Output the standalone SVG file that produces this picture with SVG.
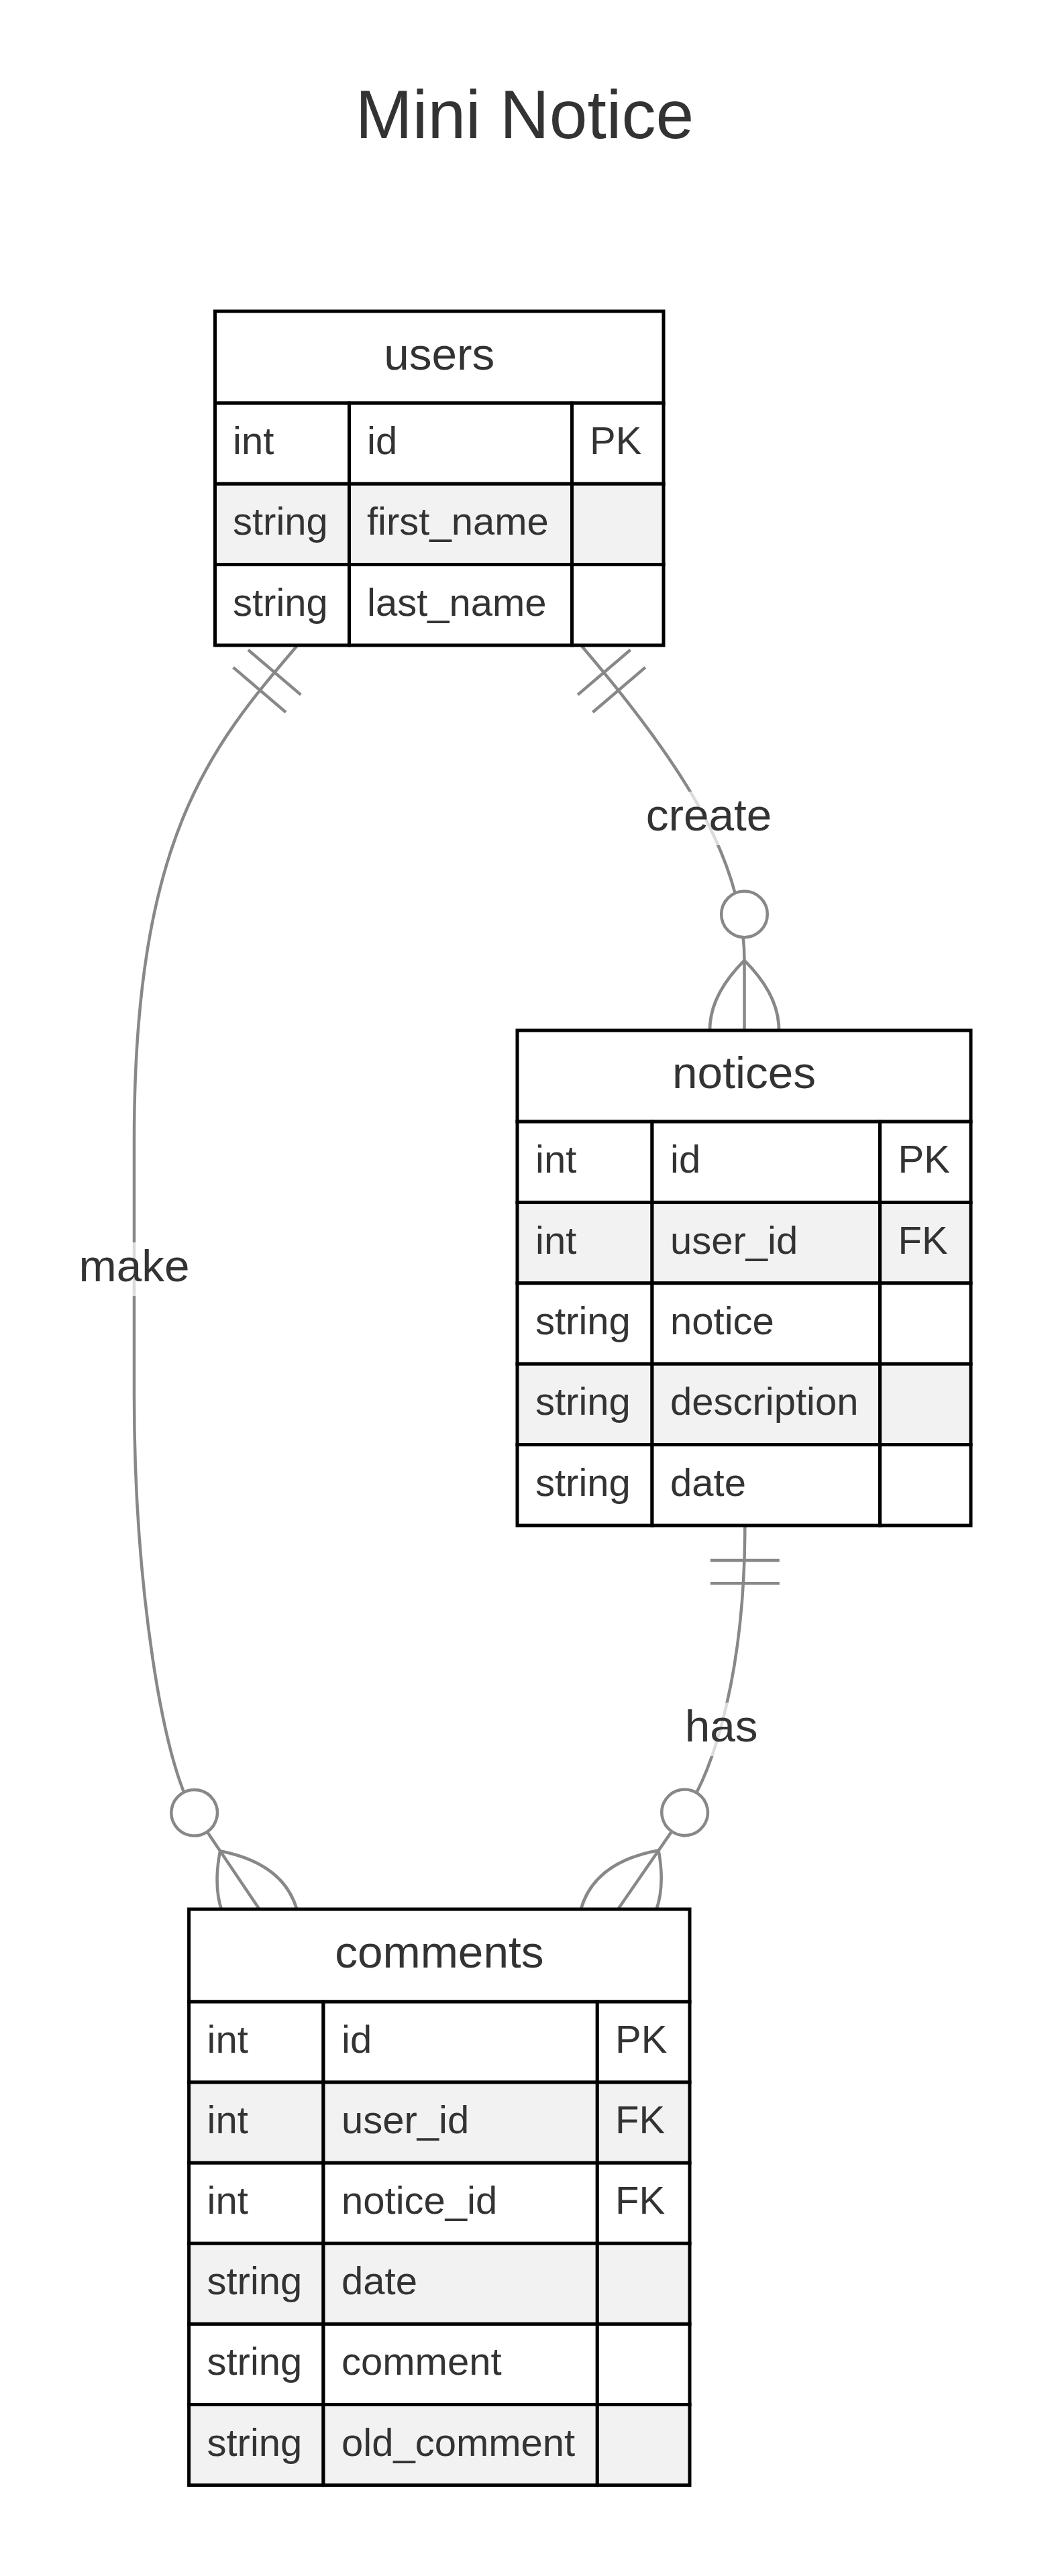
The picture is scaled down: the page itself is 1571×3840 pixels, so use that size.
<svg xmlns="http://www.w3.org/2000/svg" width="1571" height="3840" viewBox="0 0 1571 3840">
<style>
.bg{fill:#ffffff}
.edge{fill:none;stroke:#888888;stroke-width:4.5}
.mk{fill:none;stroke:#888888;stroke-width:4.5}
.cell{fill:#ffffff;stroke:#000000;stroke-width:5}
.alt{fill:#f2f2f2;stroke:#000000;stroke-width:5}
.hd{font-family:"Liberation Sans",Arial,sans-serif;font-size:67.5px;fill:#333333;text-anchor:middle}
.at{font-family:"Liberation Sans",Arial,sans-serif;font-size:58px;fill:#333333}
.lbl{font-family:"Liberation Sans",Arial,sans-serif;font-size:67.5px;fill:#333333;text-anchor:middle}
.lbox{fill:#ffffff;opacity:0.7}
.title{font-family:"Liberation Sans",Arial,sans-serif;font-size:102px;fill:#333333;text-anchor:middle}
</style>
<defs>
<g id="oneStart"><path d="M51.5,-51.5 L51.5,51.5 M85.8,-51.5 L85.8,51.5"/></g>
<g id="zeroManyEnd"><circle cx="-274.6" cy="0" r="34.3" fill="#ffffff"/><path d="M-205.9,0 Q-102.9,-102.9 0,0 Q-102.9,102.9 -205.9,0"/></g>
</defs>
<rect class="bg" x="0" y="0" width="1571" height="3840"/>
<text class="title" x="782" y="206">Mini Notice</text>

<g id="connectors">
<path class="edge" d="M442.5,963 C312.6,1115.2 200,1250 200,1700 L200,2080 C200,2360 242.7,2632.7 289.7,2702.3 L443.2,2929.9"/>
<path class="edge" d="M867,963 C1016.3,1138 1109.5,1282 1109.5,1432 L1109.5,1637.5"/>
<path class="edge" d="M1110.3,2274.5 C1110.3,2494.5 1063.3,2640.1 1020.7,2701.8 L864.7,2927.8"/>
<use href="#oneStart" class="mk" transform="translate(442.5,963) rotate(130.45)"/>
<use href="#oneStart" class="mk" transform="translate(867,963) rotate(49.55)"/>
<use href="#oneStart" class="mk" transform="translate(1110.3,2274.5) rotate(90)"/>
<use href="#zeroManyEnd" class="mk" transform="translate(443.2,2929.9) rotate(56)"/>
<use href="#zeroManyEnd" class="mk" transform="translate(1109.5,1637.5) rotate(90)"/>
<use href="#zeroManyEnd" class="mk" transform="translate(864.7,2927.8) rotate(124.6)"/>
<g id="label-make"><rect class="lbox" x="117.5" y="1852" width="165" height="80"/><text class="lbl" x="200" y="1910">make</text></g>
<g id="label-create"><rect class="lbox" x="962.8" y="1180" width="187.6" height="80"/><text class="lbl" x="1056.6" y="1238">create</text></g>
<g id="label-has"><rect class="lbox" x="1020.8" y="2538" width="108.8" height="80"/><text class="lbl" x="1075.2" y="2596">has</text></g>
</g>

<g id="users">
<rect class="cell" x="320.5" y="464" width="668.5" height="137"/>
<text class="hd" x="654.75" y="551">users</text>
<rect class="cell" x="320.5" y="601" width="200" height="120.3"/>
<rect class="cell" x="520.5" y="601" width="332" height="120.3"/>
<rect class="cell" x="852.5" y="601" width="136.5" height="120.3"/>
<rect class="alt" x="320.5" y="721.3" width="200" height="120.3"/>
<rect class="alt" x="520.5" y="721.3" width="332" height="120.3"/>
<rect class="alt" x="852.5" y="721.3" width="136.5" height="120.3"/>
<rect class="cell" x="320.5" y="841.6" width="200" height="120.3"/>
<rect class="cell" x="520.5" y="841.6" width="332" height="120.3"/>
<rect class="cell" x="852.5" y="841.6" width="136.5" height="120.3"/>
<text class="at" x="347" y="677">int</text><text class="at" x="547" y="677">id</text><text class="at" x="879" y="677">PK</text>
<text class="at" x="347" y="797.3">string</text><text class="at" x="547" y="797.3">first_name</text>
<text class="at" x="347" y="917.6">string</text><text class="at" x="547" y="917.6">last_name</text>
</g>

<g id="notices">
<rect class="cell" x="771" y="1536" width="676" height="136"/>
<text class="hd" x="1109" y="1622">notices</text>
<rect class="cell" x="771" y="1672" width="201" height="120.4"/>
<rect class="cell" x="972" y="1672" width="339.6" height="120.4"/>
<rect class="cell" x="1311.6" y="1672" width="135.4" height="120.4"/>
<rect class="alt" x="771" y="1792.4" width="201" height="120.4"/>
<rect class="alt" x="972" y="1792.4" width="339.6" height="120.4"/>
<rect class="alt" x="1311.6" y="1792.4" width="135.4" height="120.4"/>
<rect class="cell" x="771" y="1912.8" width="201" height="120.4"/>
<rect class="cell" x="972" y="1912.8" width="339.6" height="120.4"/>
<rect class="cell" x="1311.6" y="1912.8" width="135.4" height="120.4"/>
<rect class="alt" x="771" y="2033.2" width="201" height="120.4"/>
<rect class="alt" x="972" y="2033.2" width="339.6" height="120.4"/>
<rect class="alt" x="1311.6" y="2033.2" width="135.4" height="120.4"/>
<rect class="cell" x="771" y="2153.6" width="201" height="120.4"/>
<rect class="cell" x="972" y="2153.6" width="339.6" height="120.4"/>
<rect class="cell" x="1311.6" y="2153.6" width="135.4" height="120.4"/>
<text class="at" x="798" y="1748.2">int</text><text class="at" x="999" y="1748.2">id</text><text class="at" x="1338.5" y="1748.2">PK</text>
<text class="at" x="798" y="1868.6">int</text><text class="at" x="999" y="1868.6">user_id</text><text class="at" x="1338.5" y="1868.6">FK</text>
<text class="at" x="798" y="1989">string</text><text class="at" x="999" y="1989">notice</text>
<text class="at" x="798" y="2109.4">string</text><text class="at" x="999" y="2109.4">description</text>
<text class="at" x="798" y="2229.8">string</text><text class="at" x="999" y="2229.8">date</text>
</g>

<g id="comments">
<rect class="cell" x="281.6" y="2846" width="746.4" height="138"/>
<text class="hd" x="654.8" y="2933">comments</text>
<rect class="cell" x="281.6" y="2984" width="200.4" height="120.1"/>
<rect class="cell" x="482" y="2984" width="408.3" height="120.1"/>
<rect class="cell" x="890.3" y="2984" width="137.7" height="120.1"/>
<rect class="alt" x="281.6" y="3104.1" width="200.4" height="120.1"/>
<rect class="alt" x="482" y="3104.1" width="408.3" height="120.1"/>
<rect class="alt" x="890.3" y="3104.1" width="137.7" height="120.1"/>
<rect class="cell" x="281.6" y="3224.2" width="200.4" height="120.1"/>
<rect class="cell" x="482" y="3224.2" width="408.3" height="120.1"/>
<rect class="cell" x="890.3" y="3224.2" width="137.7" height="120.1"/>
<rect class="alt" x="281.6" y="3344.3" width="200.4" height="120.1"/>
<rect class="alt" x="482" y="3344.3" width="408.3" height="120.1"/>
<rect class="alt" x="890.3" y="3344.3" width="137.7" height="120.1"/>
<rect class="cell" x="281.6" y="3464.4" width="200.4" height="120.1"/>
<rect class="cell" x="482" y="3464.4" width="408.3" height="120.1"/>
<rect class="cell" x="890.3" y="3464.4" width="137.7" height="120.1"/>
<rect class="alt" x="281.6" y="3584.5" width="200.4" height="120.1"/>
<rect class="alt" x="482" y="3584.5" width="408.3" height="120.1"/>
<rect class="alt" x="890.3" y="3584.5" width="137.7" height="120.1"/>
<text class="at" x="308.5" y="3060">int</text><text class="at" x="509" y="3060">id</text><text class="at" x="917" y="3060">PK</text>
<text class="at" x="308.5" y="3180.1">int</text><text class="at" x="509" y="3180.1">user_id</text><text class="at" x="917" y="3180.1">FK</text>
<text class="at" x="308.5" y="3300.2">int</text><text class="at" x="509" y="3300.2">notice_id</text><text class="at" x="917" y="3300.2">FK</text>
<text class="at" x="308.5" y="3420.3">string</text><text class="at" x="509" y="3420.3">date</text>
<text class="at" x="308.5" y="3540.4">string</text><text class="at" x="509" y="3540.4">comment</text>
<text class="at" x="308.5" y="3660.5">string</text><text class="at" x="509" y="3660.5">old_comment</text>
</g>
</svg>
